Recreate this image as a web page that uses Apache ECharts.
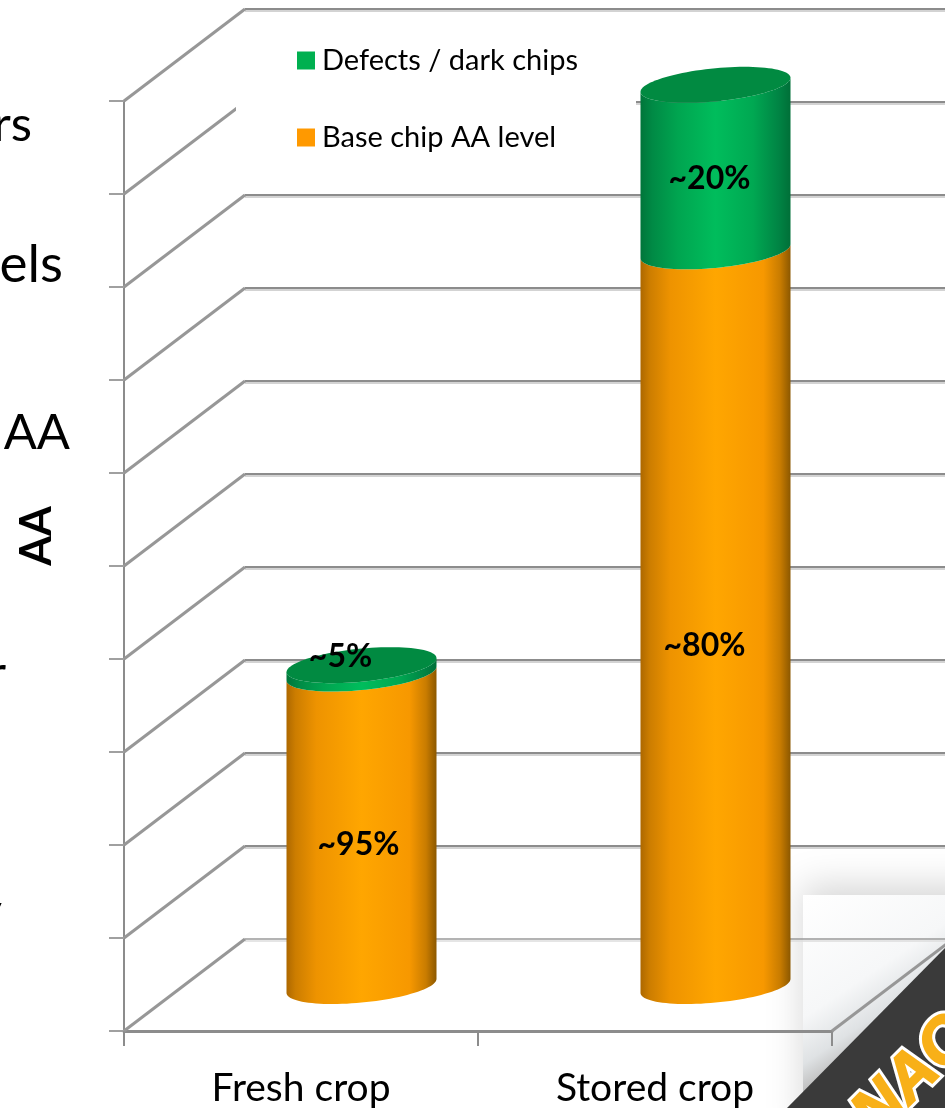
<!DOCTYPE html>
<html>
<head>
<meta charset="utf-8">
<style>html,body{margin:0;padding:0;background:#fff}#c{width:945px;height:1108px}</style>
<script src="https://cdn.jsdelivr.net/npm/echarts@6/dist/echarts.min.js"></script>
</head>
<body>
<div id="c"></div>
<script>
// ---- data ----
var categories = ['Fresh crop', 'Stored crop'];
var baseValues = [33.6, 79.0];
var defectValues = [0.9, 17.9];
var baseLabels = ['~95%', '~80%'];
var defectLabels = ['~5%', '~20%'];
var yTicks = [0, 10, 20, 30, 40, 50, 60, 70, 80, 90, 100];
var seriesNames = ['Base chip AA level', 'Defects / dark chips'];

// ---- styling ----
var FONT = 'Lato, Carlito, sans-serif';
var GRID = '#8c8c8c';
var DEPTH_X = 121, DEPTH_Y = 92;
var RX = 75, TILT = 7, RY = 16.6;
var baseNudge = [[-3, 15], [-11, 27]];
var defectNudge = [[-21, -13], [-6, 11]];

var chart = echarts.init(document.getElementById('c'), null, {renderer: 'canvas'});

function center(api, cat, v) {
  var p = api.coord([cat, v]);
  return [p[0] + DEPTH_X / 2, p[1] - DEPTH_Y / 2 + 1];
}
function lowerHalf(c, reverse) {
  var pts = [];
  for (var i = 0; i <= 48; i++) {
    var t = Math.PI * (reverse ? i / 48 : 1 - i / 48);
    pts.push([c[0] + RX * Math.cos(t), c[1] - TILT * Math.cos(t) + RY * Math.sin(t)]);
  }
  return pts;
}
function ellipse(c) {
  var pts = [];
  for (var i = 0; i < 96; i++) {
    var t = 2 * Math.PI * i / 96;
    pts.push([c[0] + RX * Math.cos(t), c[1] - TILT * Math.cos(t) + RY * Math.sin(t)]);
  }
  return pts;
}
function grad(stops) {
  return new echarts.graphic.LinearGradient(0, 0, 1, 0, stops.map(function (s) { return {offset: s[0], color: s[1]}; }));
}
var orange = grad([[0, '#ad6800'], [0.06, '#cc7d00'], [0.2, '#ee9300'], [0.5, '#ffa600'], [0.82, '#f79800'], [0.93, '#c97c00'], [1, '#8c5800']]);
var green = grad([[0, '#00753a'], [0.08, '#008a45'], [0.25, '#00a550'], [0.5, '#00bd5c'], [0.75, '#00a852'], [0.92, '#008444'], [1, '#006f38']]);

function labelEl(api, text, x, y) {
  return {type: 'text', z2: 50, style: {x: x, y: y, text: text, fill: '#000',
    font: 'bold 32px ' + FONT, align: 'center', verticalAlign: 'middle'}};
}

var LOGO_FONT = 'italic 900 64px "Liberation Sans", sans-serif';
var option = {
  animation: false,
  backgroundColor: '#fff',
  grid: {left: 124, top: 101, width: 708, height: 930, containLabel: false},
  legend: {
    left: 236, top: 30, orient: 'vertical', z: 4,
    padding: [16, 57, 16, 61],
    itemWidth: 18, itemHeight: 18, itemGap: 48,
    data: [{name: seriesNames[1], icon: 'rect'}, {name: seriesNames[0], icon: 'rect'}],
    selectedMode: false,
    textStyle: {fontFamily: FONT, fontSize: 29, color: '#000', padding: [0, 0, 0, 2]}
  },
  xAxis: {
    type: 'category', data: categories,
    axisLine: {lineStyle: {color: GRID, width: 3}},
    axisTick: {show: true, length: 15, lineStyle: {color: GRID, width: 2}},
    axisLabel: {fontFamily: FONT, fontSize: 39, color: '#000', margin: 38}
  },
  yAxis: {
    type: 'value', min: 0, max: 100, interval: 10,
    axisLine: {show: true, lineStyle: {color: GRID, width: 2}},
    axisTick: {show: true, length: 15, lineStyle: {color: '#a0a0a0', width: 2}},
    axisLabel: {show: false},
    splitLine: {show: false}
  },
  graphic: {elements: [
    {type: 'rect', z: 3, shape: {x: 236, y: 30, width: 400, height: 150}, style: {fill: '#fff'}},
    {type: 'rect', z: -19, shape: {x: 803, y: 895, width: 180, height: 250},
     style: {fill: new echarts.graphic.LinearGradient(0, 0, 142 / 180, 213 / 250, [{offset: 0, color: '#ffffff'}, {offset: 0.4, color: '#f6f7f8'}, {offset: 0.55, color: '#dfe2e4'}, {offset: 0.64, color: '#c0c0c0'}, {offset: 1, color: '#b0b0b0'}]),
       shadowColor: 'rgba(0,0,0,0.16)', shadowBlur: 34, shadowOffsetX: 0, shadowOffsetY: -10}},
    {type: 'polygon', z: -18, shape: {points: [[787, 1108], [945, 948], [945, 1108]]}, style: {fill: '#3a3a3a'}},
    {type: 'text', z: -17, x: 898, y: 1092, rotation: Math.PI / 4,
     style: {text: 'SNAC', fill: '#ffffff', stroke: '#ffffff', lineWidth: 8, font: LOGO_FONT, align: 'center', verticalAlign: 'middle'}},
    {type: 'text', z: -16, x: 898, y: 1092, rotation: Math.PI / 4,
     style: {text: 'SNAC', fill: '#f8b018', stroke: '#f8b018', lineWidth: 2, font: LOGO_FONT, align: 'center', verticalAlign: 'middle'}},
    {type: 'text', x: 32, y: 125, z: 1, style: {text: 'rs', fill: '#000', font: '49px ' + FONT, align: 'right', verticalAlign: 'middle'}},
    {type: 'text', x: 63, y: 265, z: 1, style: {text: 'els', fill: '#000', font: '53px ' + FONT, align: 'right', verticalAlign: 'middle'}},
    {type: 'text', x: 70, y: 433, z: 1, style: {text: 'AA', fill: '#000', font: '49px ' + FONT, align: 'right', verticalAlign: 'middle'}},
    {type: 'text', x: 37, y: 536, z: 1, rotation: Math.PI / 2, style: {text: 'AA', fill: '#000', font: 'bold 43px ' + FONT, align: 'center', verticalAlign: 'middle'}},
    {type: 'text', x: 6, y: 674, z: 1, style: {text: 'r', fill: '#000', font: '49px ' + FONT, align: 'right', verticalAlign: 'middle'}},
    {type: 'text', x: 2, y: 912, z: 1, style: {text: 'y', fill: '#000', font: '49px ' + FONT, align: 'right', verticalAlign: 'middle'}}
  ]},
  series: [
    {
      name: 'walls', type: 'custom', coordinateSystem: 'cartesian2d', z: 2, silent: true, clip: false,
      encode: {x: 0, y: 1},
      data: yTicks.map(function (t) { return [0, t]; }),
      renderItem: function (params, api) {
        var t = api.value(1);
        var y = api.coord([0, t])[1];
        var x0 = params.coordSys.x, x1 = x0 + params.coordSys.width;
        var bx = x0 + DEPTH_X, by = y - DEPTH_Y;
        var kids = [
          {type: 'polyline', shape: {points: [[bx, by + 2], [x1 + DEPTH_X, by + 2]]},
           style: {stroke: t === 0 ? '#dddddd' : '#c4c4c4', lineWidth: 1.5, fill: null}},
          {type: 'polyline', shape: {points: [[bx, by], [x1 + DEPTH_X, by]]},
           style: {stroke: t === 0 ? '#9a9a9a' : GRID, lineWidth: t === 0 ? 1.5 : 2, fill: null}},
          {type: 'polyline', shape: {points: [[x0, y], [bx, by]]},
           style: {stroke: '#979797', lineWidth: 3, fill: null}}
        ];
        if (t === 0) {
          kids.push({type: 'polyline', shape: {points: [[x1, y], [x1 + DEPTH_X, by]]},
            style: {stroke: '#979797', lineWidth: 3, fill: null}});
        }
        return {type: 'group', children: kids};
      }
    },
    {
      name: seriesNames[0], type: 'custom', coordinateSystem: 'cartesian2d', z: 5, clip: false,
      itemStyle: {color: '#ff9900'},
      encode: {x: 0, y: 1},
      data: baseValues.map(function (v, i) { return [i, v]; }),
      renderItem: function (params, api) {
        var i = api.value(0), v = api.value(1);
        var b = center(api, i, 0), t = center(api, i, v);
        var m = [(b[0] + t[0]) / 2, (b[1] + t[1]) / 2];
        return {type: 'group', children: [
          {type: 'polygon', shape: {points: lowerHalf(b).concat(lowerHalf(t, true))}, style: {fill: orange}},
          labelEl(api, baseLabels[i], m[0] + baseNudge[i][0], m[1] + baseNudge[i][1])
        ]};
      }
    },
    {
      name: seriesNames[1], type: 'custom', coordinateSystem: 'cartesian2d', z: 6, clip: false,
      itemStyle: {color: '#00b050'},
      encode: {x: 0, y: [1, 2]},
      data: defectValues.map(function (v, i) { return [i, baseValues[i], baseValues[i] + v]; }),
      renderItem: function (params, api) {
        var i = api.value(0);
        var b = center(api, i, api.value(1)), t = center(api, i, api.value(2));
        var m = [(b[0] + t[0]) / 2, (b[1] + t[1]) / 2];
        return {type: 'group', children: [
          {type: 'polygon', shape: {points: lowerHalf(b).concat(lowerHalf(t, true))}, style: {fill: green}},
          {type: 'polygon', shape: {points: ellipse(t)}, style: {fill: '#018a41'}},
          labelEl(api, defectLabels[i], m[0] + defectNudge[i][0], m[1] + defectNudge[i][1])
        ]};
      }
    }
  ]
};
chart.setOption(option);
</script>
</body>
</html>
